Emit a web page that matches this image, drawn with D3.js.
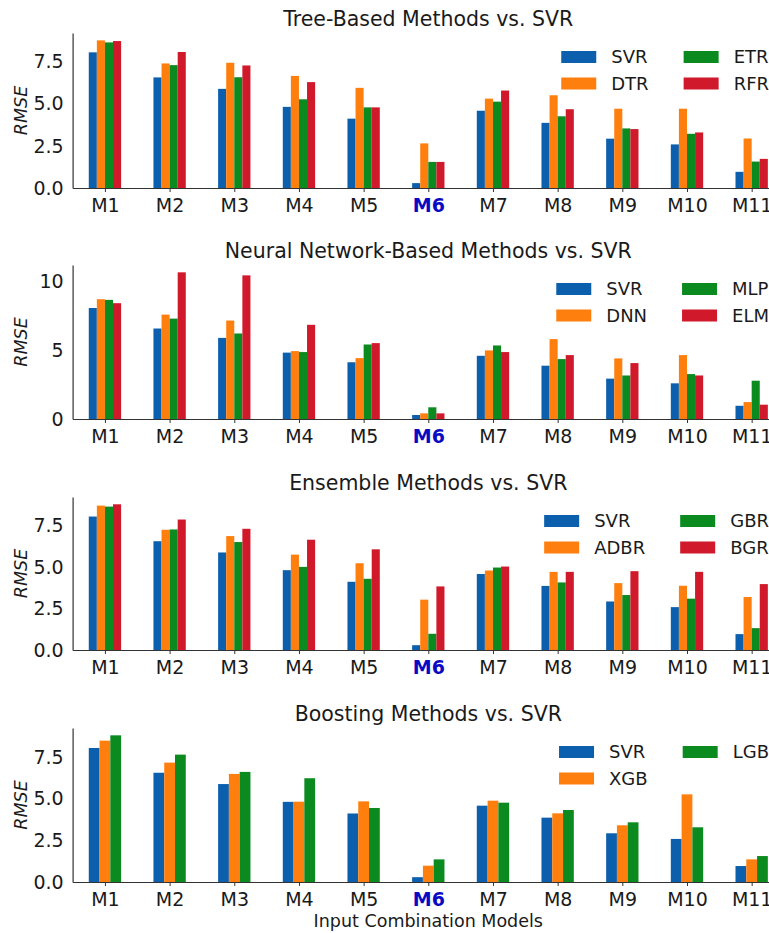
<!DOCTYPE html>
<html>
<head>
<meta charset="utf-8">
<script src="https://cdn.jsdelivr.net/npm/d3@7"></script>
<style>
  body { margin: 0; background: #fff; }
  svg { font-family: "DejaVu Sans", sans-serif; }
</style>
</head>
<body>
<div id="chart"></div>
<script>
const models = ['M1', 'M2', 'M3', 'M4', 'M5', 'M6', 'M7', 'M8', 'M9', 'M10', 'M11'];
const highlight = 'M6';

const svr = [8.06, 6.57, 5.89, 4.82, 4.12, 0.29, 4.59, 3.87, 2.93, 2.59, 0.96];

const dtr = [8.77, 7.40, 7.44, 6.66, 5.95, 2.65, 5.31, 5.51, 4.71, 4.71, 2.94];
const etr = [8.65, 7.30, 6.58, 5.27, 4.79, 1.55, 5.13, 4.26, 3.54, 3.22, 1.57];
const rfr = [8.73, 8.08, 7.28, 6.29, 4.79, 1.55, 5.79, 4.68, 3.50, 3.30, 1.73];

const dnn = [8.70, 7.58, 7.15, 4.93, 4.42, 0.41, 4.98, 5.80, 4.40, 4.64, 1.23];
const mlp = [8.65, 7.29, 6.21, 4.86, 5.41, 0.85, 5.34, 4.35, 3.16, 3.26, 2.78];
const elm = [8.41, 10.65, 10.43, 6.84, 5.51, 0.41, 4.86, 4.64, 4.06, 3.16, 1.04];

const adbr = [8.72, 7.26, 6.88, 5.76, 5.24, 3.04, 4.80, 4.72, 4.04, 3.88, 3.20];
const gbr = [8.66, 7.28, 6.52, 5.02, 4.30, 0.98, 4.98, 4.08, 3.32, 3.10, 1.32];
const bgr = [8.80, 7.88, 7.32, 6.66, 6.08, 3.84, 5.04, 4.72, 4.76, 4.72, 3.98];

const xgb = [8.50, 7.18, 6.50, 4.83, 4.85, 0.98, 4.89, 4.13, 3.41, 5.27, 1.36];
const lgb = [8.82, 7.66, 6.62, 6.24, 4.45, 1.36, 4.77, 4.33, 3.59, 3.29, 1.56];

const colors = ['#0b5fad', '#ff7f0e', '#0a8a1f', '#d0192b'];

const panels = [
  { title: 'Tree-Based Methods vs. SVR', names: ['SVR', 'DTR', 'ETR', 'RFR'],
    series: [svr, dtr, etr, rfr], ticks: [0, 2.5, 5, 7.5], fmt: '.1f', top: 33, bottom: 188 },
  { title: 'Neural Network-Based Methods vs. SVR', names: ['SVR', 'DNN', 'MLP', 'ELM'],
    series: [svr, dnn, mlp, elm], ticks: [0, 5, 10], fmt: 'd', top: 265, bottom: 419 },
  { title: 'Ensemble Methods vs. SVR', names: ['SVR', 'ADBR', 'GBR', 'BGR'],
    series: [svr, adbr, gbr, bgr], ticks: [0, 2.5, 5, 7.5], fmt: '.1f', top: 497, bottom: 650 },
  { title: 'Boosting Methods vs. SVR', names: ['SVR', 'XGB', 'LGB'],
    series: [svr, xgb, lgb], ticks: [0, 2.5, 5, 7.5], fmt: '.1f', top: 728, bottom: 882 },
];

const width = 769, height = 933;
const left = 72.6, right = 784;
const tickFs = 19, titleFs = 20.5, labelFs = 17.5, legendFs = 18;

const svg = d3.select('#chart').append('svg')
  .attr('width', width).attr('height', height);

const x = d3.scaleLinear().domain([-0.5, models.length - 0.5]).range([left, right]);

panels.forEach((p) => {
  const g = svg.append('g');
  const max = d3.max(p.series.flat());
  const y = d3.scaleLinear().domain([0, max * 1.05]).range([p.bottom, p.top]);
  const n = p.series.length;
  const bw = 0.5 / n;

  p.series.forEach((vals, si) => {
    g.append('g').selectAll('rect').data(vals).join('rect')
      .attr('x', (v, i) => x(i + (si - (n - 1) / 2) * bw - bw / 2))
      .attr('width', x(bw) - x(0))
      .attr('y', (v) => y(v))
      .attr('height', (v) => y(0) - y(v))
      .attr('fill', colors[si]);
  });

  const ax = g.append('g').attr('transform', `translate(0, ${p.bottom})`)
    .call(d3.axisBottom(x).tickValues(d3.range(models.length))
      .tickFormat((i) => models[i]).tickSizeInner(4).tickSizeOuter(0).tickPadding(7));
  ax.select('.domain').attr('stroke', '#333').attr('stroke-width', 1.2);
  ax.selectAll('.tick line').attr('stroke', '#333');
  ax.selectAll('.tick text').attr('font-size', tickFs).attr('fill', '#1a1a1a')
    .attr('font-family', '"DejaVu Sans", sans-serif')
    .filter((i) => models[i] === highlight)
    .attr('font-weight', 'bold').attr('fill', '#0a0ac4');

  const ay = g.append('g').attr('transform', `translate(${left}, 0)`)
    .call(d3.axisLeft(y).tickValues(p.ticks).tickFormat(d3.format(p.fmt))
      .tickSizeInner(0).tickSizeOuter(0).tickPadding(9));
  ay.select('.domain').attr('stroke', '#333').attr('stroke-width', 1.2);
  ay.selectAll('.tick text').attr('font-size', tickFs).attr('fill', '#1a1a1a')
    .attr('font-family', '"DejaVu Sans", sans-serif');

  g.append('text')
    .attr('transform', `translate(21, ${(p.top + p.bottom) / 2}) rotate(-90)`)
    .attr('text-anchor', 'middle').attr('dy', '0.35em')
    .attr('font-size', labelFs).attr('font-style', 'italic').attr('fill', '#1a1a1a')
    .text('RMSE');

  g.append('text')
    .attr('x', (left + right) / 2).attr('y', p.top - 7)
    .attr('text-anchor', 'middle').attr('font-size', titleFs).attr('fill', '#1a1a1a')
    .text(p.title);

  // legend: two columns filled top to bottom, right-aligned to the page edge
  const cols = [p.names.slice(0, 2), p.names.slice(2)];
  const leg = g.append('g');
  const measure = (t) => {
    const el = leg.append('text').attr('font-size', legendFs).text(t);
    const w = el.node().getComputedTextLength();
    el.remove();
    return w;
  };
  const handle = 35, hpad = 15, colGap = 35;
  let edge = 769;
  const colX = [];
  for (let c = cols.length - 1; c >= 0; c--) {
    const w = d3.max(cols[c], measure);
    const labelX = edge - w;
    const patchX = labelX - hpad - handle;
    colX[c] = { patchX, labelX };
    edge = patchX - colGap;
  }
  cols.forEach((col, c) => {
    col.forEach((name, r) => {
      const cy = p.top + 24 + r * 26.5;
      const si = p.names.indexOf(name);
      leg.append('rect').attr('x', colX[c].patchX).attr('y', cy - 6)
        .attr('width', handle).attr('height', 12).attr('fill', colors[si]);
      leg.append('text').attr('x', colX[c].labelX).attr('y', cy).attr('dy', '0.36em')
        .attr('font-size', legendFs).attr('fill', '#1a1a1a').text(name);
    });
  });
});

svg.append('text')
  .attr('x', (left + right) / 2).attr('y', 927)
  .attr('text-anchor', 'middle').attr('font-size', labelFs).attr('fill', '#1a1a1a')
  .text('Input Combination Models');
</script>
</body>
</html>
